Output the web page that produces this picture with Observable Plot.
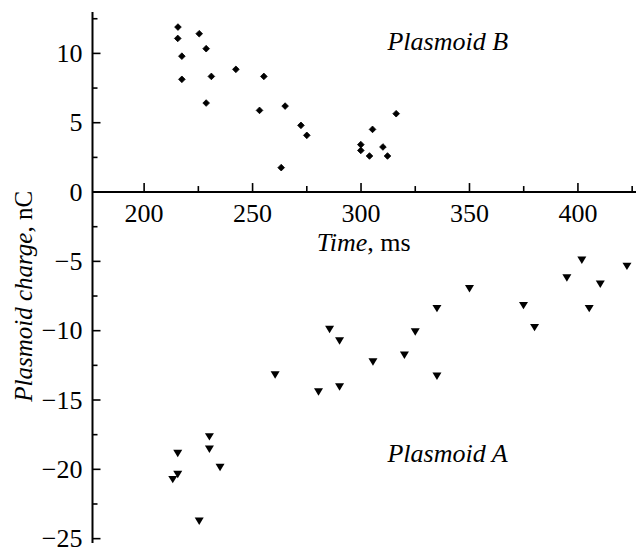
<!DOCTYPE html>
<html>
<head>
<meta charset="utf-8">
<script src="https://cdn.jsdelivr.net/npm/d3@7"></script>
<script src="https://cdn.jsdelivr.net/npm/@observablehq/plot@0.6"></script>
<style>
  html, body { margin: 0; padding: 0; background: #fff; }
  #chart svg { display: block; }
</style>
</head>
<body>
<div id="chart"></div>
<script>
// ---- data ----
const timeB   = [215.6, 215.5, 225.4, 217.4, 228.6, 217.4, 231.0, 242.3, 255.2, 228.6, 253.2, 265.0, 272.3, 275.0, 263.2, 299.9, 299.9, 303.9, 305.3, 316.2, 310.1, 312.2];
const chargeB = [11.9, 11.08, 11.42, 9.8, 10.34, 8.13, 8.34, 8.85, 8.34, 6.42, 5.89, 6.2, 4.81, 4.09, 1.76, 3.42, 3.0, 2.6, 4.52, 5.65, 3.25, 2.6];

const timeA   = [401.8, 422.6, 394.9, 410.3, 350.0, 374.9, 405.2, 335.0, 380.0, 285.5, 325.0, 290.1, 305.5, 320.0, 335.0, 280.4, 290.1, 260.4, 230.1, 230.1, 215.5, 235.0, 215.5, 213.2, 225.4];
const chargeA = [-4.92, -5.36, -6.2, -6.65, -6.97, -8.19, -8.41, -8.41, -9.78, -9.92, -10.09, -10.74, -12.26, -11.77, -13.29, -14.42, -14.06, -13.2, -17.66, -18.55, -18.86, -19.87, -20.37, -20.74, -23.74];

const xTicks = [200, 250, 300, 350, 400];
const xMinor = [225, 275, 325, 375, 425];
const yTicks = [-25, -20, -15, -10, -5, 0, 5, 10];
const yMinor = [-22.5, -17.5, -12.5, -7.5, -2.5, 2.5, 7.5, 12.5];

const seriesNames = ["Plasmoid A", "Plasmoid B"];
const xTitle = "Time, ms";
const xTitleItalic = "Time";
const yTitle = "Plasmoid charge, nC";
const yTitleItalic = "Plasmoid charge";

// ---- styling ----
const xDomain = [176.2, 427];
const yDomain = [-25.35, 12.95];
const FONT = "'Liberation Serif', 'Times New Roman', serif";

const pointsB = timeB.map((t, i) => ({t, q: chargeB[i]}));
const pointsA = timeA.map((t, i) => ({t, q: chargeA[i]}));

// custom symbols
const triDown = { draw(ctx) { ctx.moveTo(-4.5, -3.7); ctx.lineTo(4.5, -3.7); ctx.lineTo(0, 3.7); ctx.closePath(); } };
const tickRight = (len) => ({ draw(ctx) { ctx.moveTo(0, 0); ctx.lineTo(len, 0); } });
const tickUp = (len) => ({ draw(ctx) { ctx.moveTo(0, 0); ctx.lineTo(0, -len); } });
const fmt = d => d < 0 ? "\u2212" + Math.abs(d) : String(d);

const chart = Plot.plot({
  width: 636,
  height: 552,
  marginLeft: 92,
  marginRight: 0,
  marginTop: 12,
  marginBottom: 9,
  x: { domain: xDomain, axis: null },
  y: { domain: yDomain, axis: null },
  style: { fontFamily: FONT, fontSize: "26px", background: "#fff", color: "#000" },
  marks: [
    // axis lines
    Plot.ruleY([0], { stroke: "#000", strokeWidth: 2 }),
    Plot.ruleX([xDomain[0]], { stroke: "#000", strokeWidth: 2 }),
    // y ticks (inward)
    Plot.dot(yTicks, { y: d => d, frameAnchor: "left", symbol: tickRight(8), stroke: "#000", fill: "none", strokeWidth: 1.6 }),
    Plot.dot(yMinor, { y: d => d, frameAnchor: "left", symbol: tickRight(5), stroke: "#000", fill: "none", strokeWidth: 1.6 }),
    // x ticks (upward on the zero line)
    Plot.dot(xTicks, { x: d => d, y: () => 0, symbol: tickUp(9), stroke: "#000", fill: "none", strokeWidth: 1.6 }),
    Plot.dot(xMinor, { x: d => d, y: () => 0, symbol: tickUp(6), stroke: "#000", fill: "none", strokeWidth: 1.6 }),
    // tick labels
    Plot.text(yTicks, { y: d => d, frameAnchor: "left", dx: -10, dy: 8.5, textAnchor: "end", lineAnchor: "bottom", text: fmt, fill: "#000", fontSize: 26 }),
    Plot.text(xTicks, { x: d => d, y: () => 0, dy: 30, textAnchor: "middle", lineAnchor: "bottom", text: fmt, fill: "#000", fontSize: 26 }),
    // titles
    Plot.text([xTitle], { x: () => 279.6, y: () => -4.28, textAnchor: "start", lineAnchor: "bottom", text: d => d, fill: "#000", fontSize: 26 }),
    Plot.text([yTitle], { y: () => -7.52, frameAnchor: "left", dx: -61, rotate: -90, textAnchor: "middle", lineAnchor: "bottom", text: d => d, fill: "#000", fontSize: 25 }),
    // series annotations
    Plot.text([seriesNames[1]], { x: () => 312.2, y: () => 10.27, textAnchor: "start", lineAnchor: "bottom", text: d => d, fontStyle: "italic", fill: "#000", fontSize: 26 }),
    Plot.text([seriesNames[0]], { x: () => 312.2, y: () => -19.47, textAnchor: "start", lineAnchor: "bottom", text: d => d, fontStyle: "italic", fill: "#000", fontSize: 26 }),
    // data
    Plot.dot(pointsB, { x: "t", y: "q", symbol: "diamond2", r: 3, fill: "#000", stroke: "#000", strokeWidth: 0.8 }),
    Plot.dot(pointsA, { x: "t", y: "q", symbol: triDown, fill: "#000", stroke: "none" })
  ]
});

function mixStyle(svg, full, italicPart) {
  d3.select(svg).selectAll("text").filter(function () { return this.textContent === full; }).each(function () {
    const el = d3.select(this);
    el.text(null);
    el.append("tspan").attr("font-style", "italic").text(italicPart);
    el.append("tspan").attr("font-style", "normal").text(full.slice(italicPart.length));
  });
}
mixStyle(chart, xTitle, xTitleItalic);
mixStyle(chart, yTitle, yTitleItalic);

document.getElementById("chart").appendChild(chart);
</script>
</body>
</html>
